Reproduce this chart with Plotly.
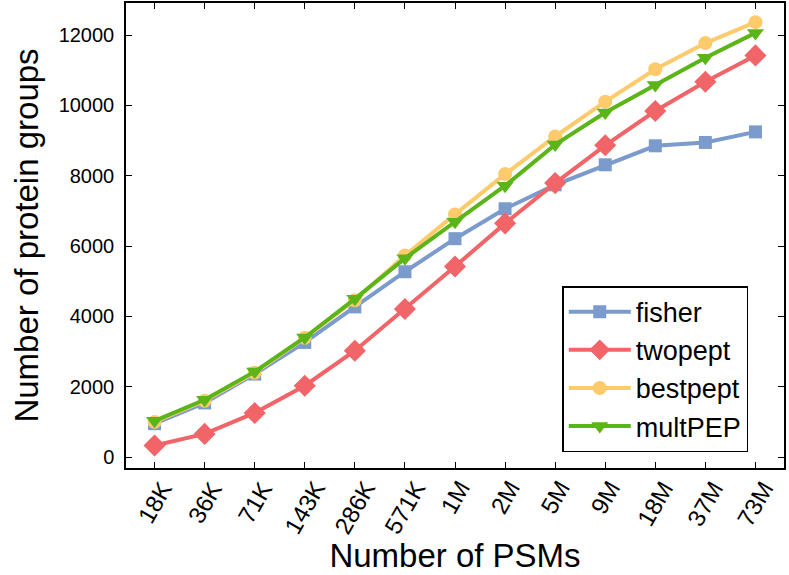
import plotly.graph_objects as go

categories = ["18K", "36K", "71K", "143K", "286K", "571K", "1M", "2M", "5M", "9M", "18M", "37M", "73M"]
fisher = [950, 1540, 2360, 3260, 4270, 5270, 6210, 7060, 7740, 8310, 8850, 8945, 9245]
twopept = [330, 660, 1255, 2030, 3025, 4210, 5420, 6645, 7790, 8865, 9840, 10670, 11420]
bestpept = [1000, 1600, 2400, 3390, 4460, 5730, 6900, 8045, 9115, 10105, 11025, 11770, 12365]
multpep = [1030, 1630, 2430, 3400, 4500, 5650, 6690, 7715, 8885, 9795, 10580, 11355, 12060]
y_ticks = [0, 2000, 4000, 6000, 8000, 10000, 12000]

series = [
    ("fisher", fisher, "#7B9BCD", "square", 13),
    ("twopept", twopept, "#F16468", "diamond", 17),
    ("bestpept", bestpept, "#FDCB6B", "circle", 14),
    ("multPEP", multpep, "#5BB418", "triangle-down", 15),
]

FONT = "Liberation Sans, Arial, Helvetica, sans-serif"
fig = go.Figure()
xs = list(range(len(categories)))
for name, vals, color, sym, size in series:
    fig.add_trace(go.Scatter(
        x=xs, y=vals, name=name, mode="lines+markers",
        line=dict(color=color, width=4),
        marker=dict(symbol=sym, size=size, color=color, line=dict(width=0)),
    ))

# x tick labels, rotated and centred on their ticks
for i, lab in enumerate(categories):
    fig.add_annotation(
        x=xs[i], xref="x", y=0, yref="paper",
        text=lab, showarrow=False, textangle=-60,
        xanchor="center", yanchor="top", yshift=-6,
        font=dict(size=24, family=FONT, color="black"),
    )

fig.update_layout(
    width=789, height=575,
    margin=dict(l=126, r=5, t=3, b=107),
    paper_bgcolor="white", plot_bgcolor="white",
    font=dict(family=FONT, color="black"),
    showlegend=True,
    legend=dict(
        x=0.663, y=0.391, xanchor="left", yanchor="top",
        bgcolor="white", bordercolor="black", borderwidth=1.5,
        font=dict(size=27, family=FONT),
        tracegroupgap=0, itemwidth=62,
    ),
    xaxis=dict(
        tickmode="array", tickvals=xs, ticktext=[""] * len(xs),
        range=[-0.57, 12.57], automargin=False,
        ticks="inside", ticklen=6, tickwidth=1, tickcolor="black",
        showline=True, linecolor="black", linewidth=1.5, mirror="ticks",
        showgrid=False, zeroline=False,
        title=dict(text="Number of PSMs", font=dict(size=33, family=FONT), standoff=73),
    ),
    yaxis=dict(
        range=[-310, 12910], automargin=False,
        tickvals=y_ticks, tickformat="d",
        ticks="inside", ticklen=6, tickwidth=1, tickcolor="black",
        showline=True, linecolor="black", linewidth=1.5, mirror="ticks",
        showgrid=False, zeroline=False,
        tickfont=dict(size=20, family=FONT),
        ticklabelstandoff=6,
        title=dict(text="Number of protein groups", font=dict(size=33, family=FONT), standoff=10),
    ),
)

fig.write_html("out.html", config={"displayModeBar": False},
               post_script="document.body.style.margin='0';")
